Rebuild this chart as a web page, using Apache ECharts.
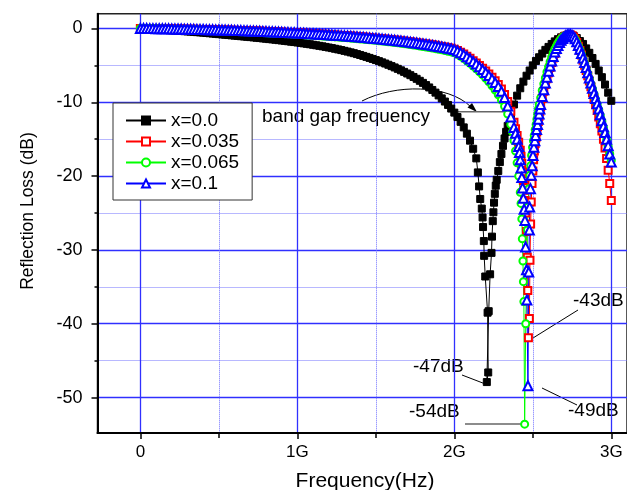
<!DOCTYPE html>
<html><head><meta charset="utf-8">
<script src="https://cdn.jsdelivr.net/npm/echarts@6/dist/echarts.min.js"></script>
<style>html,body{margin:0;padding:0;background:#fff}#c{width:627px;height:490px}</style>
</head><body><div id="c"></div>
<script>
const seriesNames = ['x=0.0', 'x=0.035', 'x=0.065', 'x=0.1'];
const xTickLabels = ['0', '1G', '2G', '3G'];

// shared low-frequency grid (GHz)
const freqLow = [0,0.02,0.04,0.06,0.08,0.1,0.12,0.14,0.16,0.18,0.2,0.22,0.24,0.26,0.28,0.3,0.32,0.34,0.36,0.38,0.4,0.42,0.44,0.46,0.48,0.5,0.52,0.54,0.56,0.58,0.6,0.62,0.64,0.66,0.68,0.7,0.72,0.74,0.76,0.78,0.8,0.82,0.84,0.86,0.88,0.9,0.92,0.94,0.96,0.98,1,1.02,1.04,1.06,1.08,1.1,1.12,1.14,1.16,1.18,1.2,1.22,1.24,1.26,1.28,1.3,1.32,1.34,1.36,1.38,1.4,1.42,1.44,1.46,1.48,1.5,1.52,1.54,1.56,1.58,1.6,1.62,1.64,1.66,1.68,1.7,1.72,1.74,1.76,1.78,1.8,1.82,1.84,1.86,1.88,1.9,1.92,1.94,1.96,1.98];

// x = 0.0
const rlLowX0 = [0,-0.02,-0.04,-0.06,-0.09,-0.11,-0.14,-0.16,-0.19,-0.22,-0.25,-0.28,-0.31,-0.34,-0.37,-0.40,-0.43,-0.46,-0.50,-0.53,-0.57,-0.61,-0.65,-0.69,-0.73,-0.77,-0.81,-0.85,-0.89,-0.93,-0.97,-1.01,-1.05,-1.09,-1.13,-1.17,-1.21,-1.26,-1.30,-1.35,-1.39,-1.44,-1.48,-1.53,-1.58,-1.63,-1.68,-1.73,-1.79,-1.84,-1.90,-1.96,-2.02,-2.08,-2.14,-2.21,-2.28,-2.35,-2.42,-2.50,-2.58,-2.66,-2.75,-2.84,-2.93,-3.03,-3.13,-3.24,-3.35,-3.47,-3.59,-3.72,-3.85,-3.99,-4.13,-4.28,-4.43,-4.59,-4.75,-4.92,-5.10,-5.28,-5.47,-5.67,-5.88,-6.10,-6.33,-6.57,-6.82,-7.09,-7.37,-7.67,-7.99,-8.33,-8.69,-9.07,-9.47,-9.90,-10.36,-10.85];
const freqHighX0 = [2,2.02,2.04,2.06,2.08,2.1,2.12,2.14,2.15,2.158,2.165,2.175,2.18,2.183,2.188,2.19,2.197,2.212,2.216,2.207,2.219,2.228,2.237,2.24,2.245,2.249,2.253,2.258,2.264,2.27,2.28,2.29,2.3,2.31,2.32,2.33,2.34,2.36,2.38,2.4,2.42,2.44,2.46,2.48,2.5,2.52,2.54,2.56,2.58,2.6,2.62,2.64,2.66,2.68,2.7,2.72,2.74,2.76,2.78,2.8,2.82,2.84,2.86,2.88,2.9,2.92,2.94,2.96,2.98,3];
const rlHighX0 = [-11.4,-12,-12.65,-13.4,-14.25,-15.2,-16.3,-17.6,-19.5,-21.4,-23.1,-24.4,-25.6,-26.9,-28.8,-30.8,-33.6,-38.5,-46.6,-47.9,-38.3,-33.3,-30.4,-28.2,-26.1,-24.9,-23.6,-22.4,-21.3,-20.5,-19.3,-18.1,-17,-15.9,-14.9,-14,-13.2,-11.7,-10.3,-9.1,-8.1,-7.2,-6.4,-5.7,-5,-4.4,-3.9,-3.4,-2.9,-2.5,-2.1,-1.75,-1.45,-1.2,-1,-0.9,-0.9,-1,-1.3,-1.7,-2.1,-2.7,-3.3,-4,-4.8,-5.7,-6.6,-7.6,-8.7,-9.8];

// x = 0.035
const rlLowX035 = [0,0,-0.01,-0.01,-0.02,-0.02,-0.03,-0.03,-0.04,-0.04,-0.05,-0.06,-0.07,-0.07,-0.08,-0.09,-0.10,-0.11,-0.12,-0.13,-0.14,-0.15,-0.16,-0.17,-0.18,-0.19,-0.20,-0.21,-0.22,-0.23,-0.24,-0.26,-0.27,-0.29,-0.30,-0.32,-0.33,-0.35,-0.36,-0.38,-0.40,-0.41,-0.43,-0.45,-0.47,-0.49,-0.51,-0.53,-0.55,-0.57,-0.59,-0.61,-0.63,-0.65,-0.67,-0.70,-0.72,-0.74,-0.77,-0.79,-0.82,-0.85,-0.88,-0.91,-0.94,-0.97,-1.00,-1.03,-1.06,-1.09,-1.13,-1.16,-1.20,-1.24,-1.28,-1.32,-1.36,-1.40,-1.44,-1.48,-1.52,-1.57,-1.61,-1.66,-1.71,-1.76,-1.81,-1.86,-1.92,-1.97,-2.03,-2.09,-2.15,-2.22,-2.29,-2.36,-2.43,-2.51,-2.59,-2.68];
const freqHighX035 = [2,2.02,2.04,2.06,2.08,2.1,2.12,2.14,2.16,2.18,2.2,2.22,2.24,2.26,2.28,2.3,2.32,2.34,2.36,2.38,2.39,2.4,2.41,2.42,2.425,2.43,2.435,2.44,2.445,2.45,2.455,2.46,2.465,2.468,2.472,2.478,2.482,2.486,2.49,2.495,2.5,2.505,2.51,2.515,2.52,2.525,2.53,2.535,2.54,2.545,2.55,2.56,2.57,2.58,2.59,2.6,2.61,2.62,2.63,2.64,2.65,2.66,2.67,2.68,2.69,2.7,2.71,2.72,2.73,2.74,2.75,2.76,2.77,2.78,2.79,2.8,2.81,2.82,2.83,2.84,2.85,2.86,2.87,2.88,2.89,2.9,2.91,2.92,2.93,2.94,2.95,2.96,2.97,2.98,2.99,3];
const rlHighX035 = [-2.8,-3,-3.22,-3.47,-3.75,-4.05,-4.36,-4.68,-5.02,-5.38,-5.76,-6.16,-6.6,-7.08,-7.6,-8.2,-8.95,-9.9,-11.2,-12.7,-13.6,-14.5,-15.4,-16.5,-17.3,-18.3,-19.4,-20.6,-21.9,-23.3,-25,-27.5,-31,-35.5,-41.9,-39.3,-31.4,-26.5,-23.5,-21,-19.3,-17.8,-16.6,-15.6,-14.8,-14,-13.3,-12.6,-11.9,-11.2,-10.6,-9.5,-8.5,-7.6,-6.8,-6,-5.3,-4.6,-4,-3.4,-2.9,-2.4,-2,-1.7,-1.4,-1.2,-1.05,-0.95,-0.9,-0.9,-1,-1.2,-1.5,-1.9,-2.4,-3,-3.6,-4.3,-5,-5.7,-6.4,-7.1,-7.9,-8.7,-9.5,-10.3,-11.1,-12,-12.9,-13.9,-15,-16.2,-17.6,-19.2,-21,-23.3];

// x = 0.065
const rlLowX065 = [0,-0.02,-0.02,-0.03,-0.04,-0.05,-0.06,-0.07,-0.08,-0.09,-0.12,-0.13,-0.14,-0.15,-0.16,-0.17,-0.18,-0.19,-0.21,-0.22,-0.25,-0.26,-0.27,-0.29,-0.30,-0.31,-0.32,-0.34,-0.35,-0.37,-0.40,-0.42,-0.43,-0.45,-0.46,-0.48,-0.49,-0.51,-0.53,-0.55,-0.59,-0.61,-0.62,-0.64,-0.66,-0.68,-0.70,-0.72,-0.74,-0.77,-0.80,-0.83,-0.85,-0.88,-0.91,-0.93,-0.96,-0.99,-1.02,-1.05,-1.08,-1.11,-1.14,-1.17,-1.21,-1.24,-1.27,-1.31,-1.35,-1.38,-1.42,-1.45,-1.49,-1.53,-1.57,-1.61,-1.66,-1.70,-1.75,-1.80,-1.85,-1.90,-1.95,-2.01,-2.06,-2.12,-2.18,-2.24,-2.30,-2.37,-2.44,-2.51,-2.58,-2.66,-2.74,-2.82,-2.90,-2.99,-3.08,-3.18];
const freqHighX065 = [2,2.02,2.04,2.06,2.08,2.1,2.12,2.14,2.16,2.18,2.2,2.22,2.24,2.26,2.28,2.3,2.32,2.34,2.36,2.37,2.38,2.39,2.4,2.41,2.42,2.425,2.43,2.433,2.437,2.44,2.443,2.448,2.455,2.461,2.466,2.469,2.475,2.481,2.487,2.492,2.498,2.504,2.509,2.515,2.521,2.526,2.531,2.536,2.541,2.55,2.56,2.57,2.58,2.59,2.6,2.61,2.62,2.63,2.64,2.65,2.66,2.67,2.68,2.69,2.7,2.71,2.72,2.73,2.74,2.75,2.76,2.77,2.78,2.79,2.8,2.81,2.82,2.83,2.84,2.85,2.86,2.87,2.88,2.89,2.9,2.91,2.92,2.93,2.94,2.95,2.96,2.97,2.98,2.99,3];
const rlHighX065 = [-3.25,-3.5,-3.77,-4.06,-4.38,-4.72,-5.08,-5.46,-5.86,-6.29,-6.75,-7.24,-7.77,-8.35,-8.98,-9.7,-10.55,-11.6,-13,-14,-15.2,-16.6,-18.2,-20,-22.2,-23.7,-25.8,-28.5,-31.5,-34.3,-37,-53.6,-40,-33,-27.3,-24.2,-21.7,-19.9,-18.6,-17.2,-16.1,-15.2,-14.5,-13.7,-13,-12.3,-11.6,-10.9,-10.3,-9.4,-8.4,-7.5,-6.7,-5.9,-5.2,-4.5,-3.9,-3.3,-2.8,-2.4,-2,-1.7,-1.4,-1.2,-1.05,-0.95,-0.9,-0.9,-0.95,-1.05,-1.2,-1.5,-1.9,-2.4,-2.9,-3.5,-4.1,-4.7,-5.4,-6.1,-6.8,-7.5,-8.2,-8.9,-9.6,-10.3,-11,-11.8,-12.6,-13.4,-14.2,-15.1,-16,-17,-17.9];

// x = 0.1
const rlLowX1 = [0,-0.01,-0.01,-0.02,-0.02,-0.03,-0.04,-0.04,-0.05,-0.05,-0.06,-0.07,-0.08,-0.08,-0.09,-0.10,-0.11,-0.12,-0.13,-0.14,-0.15,-0.16,-0.17,-0.18,-0.19,-0.20,-0.21,-0.22,-0.24,-0.25,-0.26,-0.28,-0.29,-0.31,-0.32,-0.34,-0.35,-0.37,-0.38,-0.40,-0.42,-0.44,-0.45,-0.47,-0.49,-0.51,-0.53,-0.55,-0.57,-0.59,-0.61,-0.63,-0.65,-0.68,-0.70,-0.72,-0.75,-0.77,-0.80,-0.82,-0.85,-0.88,-0.91,-0.94,-0.97,-1.00,-1.03,-1.06,-1.10,-1.13,-1.17,-1.20,-1.24,-1.28,-1.32,-1.36,-1.40,-1.44,-1.48,-1.52,-1.57,-1.61,-1.66,-1.71,-1.76,-1.81,-1.86,-1.92,-1.97,-2.03,-2.09,-2.15,-2.22,-2.29,-2.36,-2.43,-2.51,-2.59,-2.67,-2.76];
const freqHighX1 = [2,2.02,2.04,2.06,2.08,2.1,2.12,2.14,2.16,2.18,2.2,2.22,2.24,2.26,2.28,2.3,2.32,2.34,2.36,2.38,2.39,2.4,2.41,2.415,2.42,2.425,2.43,2.435,2.44,2.445,2.45,2.454,2.46,2.462,2.469,2.474,2.478,2.48,2.485,2.49,2.496,2.501,2.507,2.513,2.518,2.524,2.53,2.535,2.54,2.545,2.55,2.56,2.57,2.58,2.59,2.6,2.61,2.62,2.63,2.64,2.65,2.66,2.67,2.68,2.69,2.7,2.71,2.72,2.73,2.74,2.75,2.76,2.77,2.78,2.79,2.8,2.81,2.82,2.83,2.84,2.85,2.86,2.87,2.88,2.89,2.9,2.91,2.92,2.93,2.94,2.95,2.96,2.97,2.98,2.99,3];
const rlHighX1 = [-2.85,-3.05,-3.28,-3.54,-3.83,-4.14,-4.47,-4.82,-5.18,-5.56,-5.96,-6.38,-6.83,-7.32,-7.86,-8.5,-9.35,-10.5,-12,-13.4,-14.2,-15,-16,-16.8,-17.8,-18.9,-20.2,-21.6,-23,-24.5,-26,-29.6,-32.7,-36.8,-48.4,-33,-27.3,-24.2,-21.7,-19.9,-18.6,-17.2,-16.1,-15.2,-14.5,-13.7,-13,-12.3,-11.6,-10.9,-10.3,-9.2,-8.3,-7.4,-6.6,-5.8,-5.1,-4.4,-3.8,-3.2,-2.7,-2.3,-1.9,-1.6,-1.35,-1.15,-1,-0.9,-0.85,-0.85,-0.95,-1.1,-1.4,-1.8,-2.3,-2.8,-3.4,-4,-4.6,-5.3,-6,-6.7,-7.4,-8.1,-8.8,-9.5,-10.2,-10.9,-11.7,-12.5,-13.3,-14.1,-15,-15.9,-17,-18.1];

function pairs(fl, vl, fh, vh) {
  return fl.map((f, i) => [f, vl[i]]).concat(fh.map((f, i) => [f, vh[i]]));
}

const FONT = 'Liberation Sans';
const chart = echarts.init(document.getElementById('c'), null, { renderer: 'canvas' });

function mkSeries(name, data, symbol, color, size) {
  return {
    name, type: 'line', data, symbol, symbolSize: size, showAllSymbol: true,
    color, lineStyle: { color, width: 1 },
    itemStyle: { color, borderColor: color, borderWidth: 1 },
    emphasis: { disabled: true }, animation: false, clip: true
  };
}

const txt = (text, x, y, size, align, extra) => Object.assign({
  type: 'text', x, y, silent: true,
  style: { text, fill: '#000', font: size + 'px "' + FONT + '"', textAlign: align || 'left', textVerticalAlign: 'middle' }
}, extra || {});
const seg = (x1, y1, x2, y2, color, w) => ({
  type: 'line', silent: true, shape: { x1, y1, x2, y2 }, style: { stroke: color, lineWidth: w }
});

const option = {
  animation: false,
  backgroundColor: '#fff',
  grid: { left: 97.5, top: 13.7, right: -3.4, bottom: 57, show: true, borderColor: '#222', borderWidth: 1.5, containLabel: false },
  xAxis: {
    type: 'value', min: -0.273, max: 3.1, splitNumber: 3,
    axisLine: { show: true, onZero: false, lineStyle: { color: '#000', width: 2 } },
    axisTick: { show: true, length: 6, lineStyle: { color: '#000', width: 1.5 }, customValues: [0, 1, 2, 3] },
    minorTick: { show: true, splitNumber: 2, length: 5, lineStyle: { color: '#000', width: 1.5 } },
    axisLabel: {
      margin: 11, color: '#000', fontFamily: FONT, fontSize: 17,
      customValues: [0, 1, 2, 3],
      formatter: v => (Math.abs(v - Math.round(v)) < 1e-6 && v >= 0 && v <= 3) ? xTickLabels[Math.round(v)] : ''
    },
    splitLine: { show: true, lineStyle: { color: '#3030ff', width: 1.3 } },
    minorSplitLine: { show: true, lineStyle: { color: '#7070ff', width: 1, type: 'dotted' } }
  },
  yAxis: {
    type: 'value', min: -54.8, max: 2, splitNumber: 6,
    axisLine: { show: true, onZero: false, lineStyle: { color: '#000', width: 2 } },
    axisTick: { show: true, length: 6, lineStyle: { color: '#000', width: 1.5 }, customValues: [-50, -40, -30, -20, -10, 0] },
    minorTick: { show: true, splitNumber: 2, length: 3, lineStyle: { color: '#000', width: 1.5 } },
    axisLabel: {
      margin: 15, color: '#000', fontFamily: FONT, fontSize: 18,
      customValues: [-50, -40, -30, -20, -10, 0],
      formatter: v => (Math.abs(v / 10 - Math.round(v / 10)) < 1e-6) ? String(Math.round(v)) : ''
    },
    splitLine: { show: true, lineStyle: { color: '#3030ff', width: 1.3 } },
    minorSplitLine: { show: true, lineStyle: { color: '#7070ff', width: 1, type: 'dotted' } }
  },
  legend: {
    orient: 'vertical', left: 113, top: 103, padding: [8, 13, 7, 12],
    itemWidth: 40, itemHeight: 10, itemGap: 2,
    backgroundColor: '#fff', borderColor: '#333', borderWidth: 1,
    textStyle: { fontFamily: FONT, fontSize: 19, color: '#000' },
    data: seriesNames
  },
  series: [
    mkSeries(seriesNames[0], pairs(freqLow, rlLowX0, freqHighX0, rlHighX0), 'rect', '#000000', 7),
    mkSeries(seriesNames[1], pairs(freqLow, rlLowX035, freqHighX035, rlHighX035), 'emptyRect', '#ff0000', 7),
    mkSeries(seriesNames[2], pairs(freqLow, rlLowX065, freqHighX065, rlHighX065), 'emptyCircle', '#00ff00', 7),
    mkSeries(seriesNames[3], pairs(freqLow, rlLowX1, freqHighX1, rlHighX1), 'emptyTriangle', '#0000ff', 9)
  ],
  graphic: {
    elements: [
      txt('Reflection Loss (dB)', 28, 211, 17.5, 'center', { rotation: Math.PI / 2 }),
      txt('Frequency(Hz)', 365, 481, 21, 'center'),
      txt('band gap frequency', 262, 117, 19, 'left'),
      { type: 'bezierCurve', silent: true, shape: { x1: 362, y1: 101, cpx1: 395, cpy1: 84, cpx2: 448, cpy2: 84, x2: 471, y2: 107 }, style: { stroke: '#000', lineWidth: 1, fill: null } },
      { type: 'polygon', silent: true, shape: { points: [[477, 112], [467.5, 107.5], [472, 103]] }, style: { fill: '#000' } },
      seg(458, 111.7, 512, 111.7, '#666', 1.5),
      txt('-47dB', 413, 367, 19, 'left'),
      seg(462, 375, 488, 385, '#000', 1),
      txt('-43dB', 573, 301, 19, 'left'),
      seg(578, 310, 533, 338, '#000', 1),
      txt('-49dB', 568, 411, 19, 'left'),
      seg(542, 388, 577, 405, '#000', 1),
      txt('-54dB', 409, 412, 19, 'left'),
      seg(465, 424, 526, 424, '#666', 1.5)
    ]
  }
};
chart.setOption(option);
</script>
</body></html>
